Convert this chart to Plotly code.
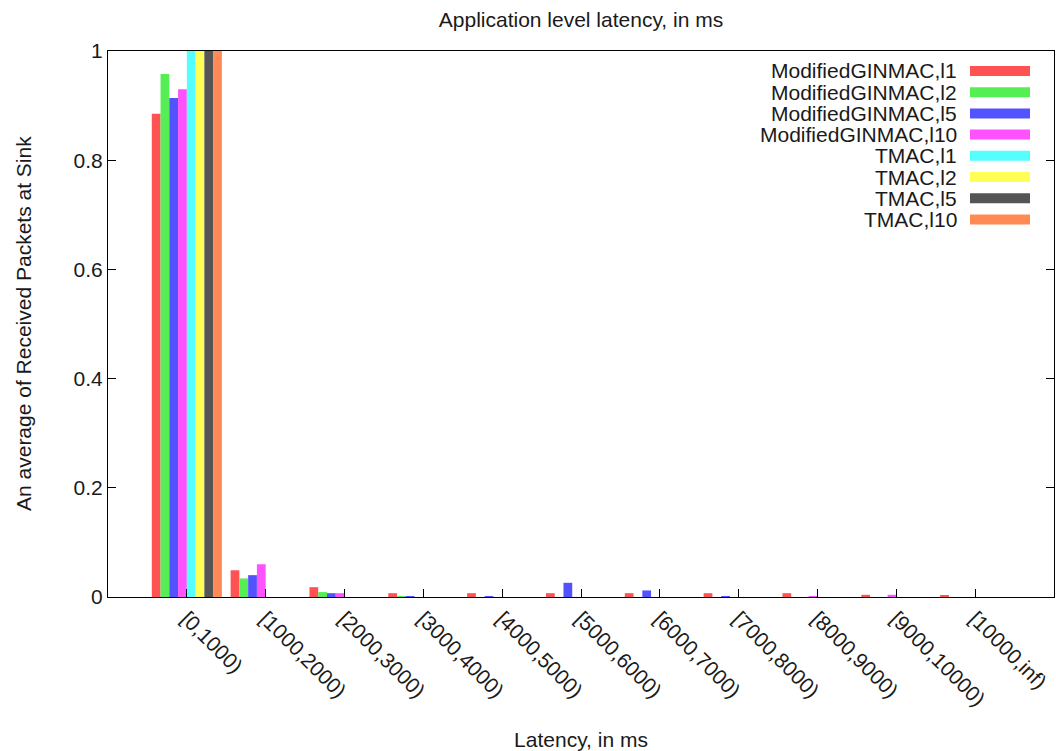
import plotly.graph_objects as go

# Latency bins (x categories)
bins = ["[0,1000)", "[1000,2000)", "[2000,3000)", "[3000,4000)", "[4000,5000)",
        "[5000,6000)", "[6000,7000)", "[7000,8000)", "[8000,9000)", "[9000,10000)",
        "[10000,inf)"]

# Average fraction of received packets per latency bin, one list per series
gin_l1 = [0.885, 0.049, 0.018, 0.007, 0.007, 0.007, 0.007, 0.007, 0.007, 0.004, 0.002]
gin_l2 = [0.958, 0.034, 0.009, 0.001, 0.000, 0.000, 0.000, 0.000, 0.000, 0.000, 0.000]
gin_l5 = [0.914, 0.040, 0.007, 0.001, 0.001, 0.026, 0.012, 0.001, 0.000, 0.000, 0.000]
gin_l10 = [0.930, 0.060, 0.007, 0.000, 0.000, 0.000, 0.000, 0.000, 0.001, 0.004, 0.000]
tmac_l1 = [1.0, 0, 0, 0, 0, 0, 0, 0, 0, 0, 0]
tmac_l2 = [1.0, 0, 0, 0, 0, 0, 0, 0, 0, 0, 0]
tmac_l5 = [1.0, 0, 0, 0, 0, 0, 0, 0, 0, 0, 0]
tmac_l10 = [1.0, 0, 0, 0, 0, 0, 0, 0, 0, 0, 0]

series_names = ["ModifiedGINMAC,l1", "ModifiedGINMAC,l2", "ModifiedGINMAC,l5",
                "ModifiedGINMAC,l10", "TMAC,l1", "TMAC,l2", "TMAC,l5", "TMAC,l10"]
series_values = [gin_l1, gin_l2, gin_l5, gin_l10, tmac_l1, tmac_l2, tmac_l5, tmac_l10]
series_colors = ["#FF5252", "#55EE55", "#5252FF", "#FF52FF",
                 "#55FFFF", "#FFFF55", "#555555", "#FF8A55"]

y_ticks = [0, 0.2, 0.4, 0.6, 0.8, 1.0]
y_tick_text = ["0", "0.2", "0.4", "0.6", "0.8", "1"]

FONT = "Liberation Sans, Arial, sans-serif"
TEXT = "#1a1a1a"
FS = 21

W, H = 1056, 751
L, R, T, B = 108, 2, 51, 154
plot_w, plot_h = W - L - R, H - T - B

fig = go.Figure()
for name, vals, col in zip(series_names, series_values, series_colors):
    fig.add_trace(go.Bar(x=bins, y=vals, name=name, marker_color=col,
                         marker_line_width=0, showlegend=False))

# Key in the upper right: right-aligned label followed by a colour swatch
row0, row_step = 71, 21.2
for i, (name, col) in enumerate(zip(series_names, series_colors)):
    yc = row0 + i * row_step
    yp = 1 - (yc - T) / plot_h
    fig.add_annotation(x=(959 - L) / plot_w, y=yp, xref="paper", yref="paper",
                       text=name, showarrow=False, xanchor="right", yanchor="middle",
                       font=dict(family=FONT, size=FS, color=TEXT))
    fig.add_shape(type="rect", xref="paper", yref="paper",
                  x0=(970 - L) / plot_w, x1=(1030 - L) / plot_w,
                  y0=yp - 5 / plot_h, y1=yp + 5 / plot_h,
                  fillcolor=col, line_width=0)

# Vertical axis title, placed near the left edge
fig.add_annotation(x=(23 - L) / plot_w, y=0.5, xref="paper", yref="paper",
                   text="An average of Received Packets at Sink", textangle=-90,
                   showarrow=False, xanchor="center", yanchor="middle",
                   font=dict(family=FONT, size=FS, color=TEXT))

fig.update_layout(
    width=W, height=H,
    margin=dict(l=L, r=R, t=T, b=B, autoexpand=False),
    paper_bgcolor="white", plot_bgcolor="white",
    barmode="group", bargap=1 / 9, bargroupgap=0,
    font=dict(family=FONT, size=FS, color=TEXT),
    title=dict(text="Application level latency, in ms", x=(L + plot_w / 2) / W,
               xanchor="center", y=1 - 20 / H, yanchor="middle",
               font=dict(family=FONT, size=FS, color=TEXT)),
)

fig.update_xaxes(
    type="category", range=[-1, 11],
    showline=True, linecolor="black", linewidth=1.2, mirror=True,
    ticks="inside", ticklen=8, tickcolor="black", tickwidth=1,
    tickangle=45, tickfont=dict(family=FONT, size=FS, color=TEXT),
    showgrid=False, zeroline=False,
    title=dict(text="Latency, in ms", standoff=24,
               font=dict(family=FONT, size=FS, color=TEXT)),
)
fig.update_yaxes(
    range=[0, 1], tickvals=y_ticks, ticktext=y_tick_text,
    showline=True, linecolor="black", linewidth=1.2, mirror="ticks",
    ticks="inside", ticklen=8, tickcolor="black", tickwidth=1,
    tickfont=dict(family=FONT, size=FS, color=TEXT),
    showgrid=False, zeroline=False,
)

fig.write_html("out.html")
